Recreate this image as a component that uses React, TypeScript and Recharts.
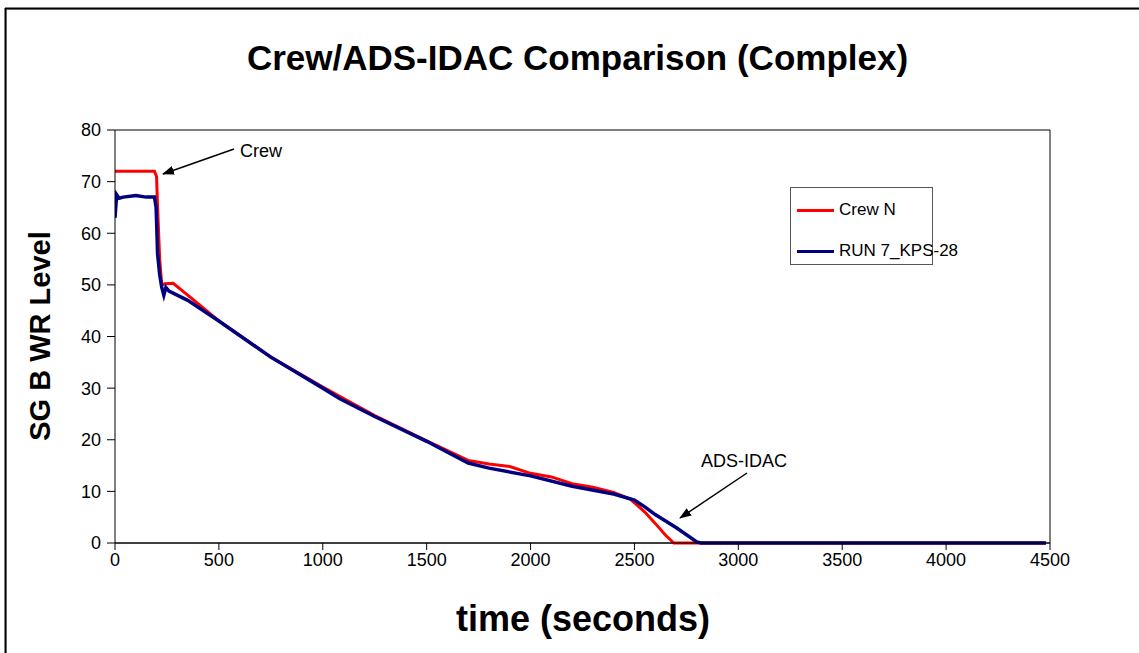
import { LineChart, Line, XAxis, YAxis, CartesianGrid } from 'recharts';

const xTicks = [0, 500, 1000, 1500, 2000, 2500, 3000, 3500, 4000, 4500];
const yTicks = [0, 10, 20, 30, 40, 50, 60, 70, 80];

const crewTime = [0, 190, 200, 205, 215, 225, 240, 280, 350, 500, 750, 1000, 1250, 1500, 1700, 1800, 1900, 2000, 2100, 2200, 2300, 2400, 2480, 2550, 2600, 2650, 2690, 2760, 4480];
const crewLevel = [72, 72, 71, 65, 55, 50, 50.2, 50.3, 48, 43, 36, 30.2, 24.7, 19.8, 16, 15.3, 14.8, 13.5, 12.8, 11.5, 10.8, 9.8, 8.5, 6, 3.8, 1.5, 0, 0, 0];

const runTime = [0, 8, 20, 40, 100, 150, 190, 198, 205, 215, 225, 235, 245, 260, 350, 500, 750, 1000, 1080, 1250, 1500, 1700, 1800, 2000, 2200, 2400, 2500, 2550, 2600, 2700, 2800, 2820, 4480];
const runLevel = [63, 67.5, 66.8, 67, 67.3, 67, 67, 65, 56, 52, 49.5, 48, 49.5, 48.8, 47, 43, 36, 30, 28, 24.5, 19.7, 15.5, 14.5, 13, 11, 9.5, 8.3, 7, 5.5, 3, 0.2, 0, 0];

const crewData = crewTime.map((t, i) => ({ t, v: crewLevel[i] }));
const runData = runTime.map((t, i) => ({ t, v: runLevel[i] }));

const legendItems = [
  { name: 'Crew N', color: '#ff0000' },
  { name: 'RUN 7_KPS-28', color: '#000080' },
];

const font = '"Liberation Sans", Arial, sans-serif';
const tickStyle = { fill: '#000', fontSize: 18, fontFamily: font };

export default function App() {
  return (
    <div style={{ position: 'relative', width: 1139, height: 653, overflow: 'hidden', background: '#fff', fontFamily: font }}>
      <style>{'html,body{margin:0;padding:0;overflow:hidden}'}</style>
      <div style={{ position: 'absolute', left: 0, width: 1155, top: 38, textAlign: 'center', fontSize: 35, fontWeight: 'bold', whiteSpace: 'nowrap' }}>
        Crew/ADS-IDAC Comparison (Complex)
      </div>
      <div style={{ position: 'absolute', left: 0, top: 0 }}>
        <LineChart width={1139} height={653} margin={{ top: 130, right: 69, left: 55, bottom: 80 }}>
          <CartesianGrid vertical={false} stroke="#000" strokeWidth={1} />
          <XAxis
            type="number"
            dataKey="t"
            domain={[0, 4500]}
            ticks={xTicks}
            allowDataOverflow
            height={30}
            stroke="#000"
            tick={tickStyle}
            tickSize={7}
            tickMargin={3}
          />
          <YAxis
            yAxisId="l"
            domain={[0, 80]}
            ticks={yTicks}
            width={60}
            stroke="#000"
            tick={tickStyle}
            tickSize={8}
            tickMargin={6}
          />
          <YAxis
            yAxisId="r"
            orientation="right"
            domain={[0, 80]}
            ticks={yTicks}
            width={20}
            stroke="#000"
            tick={false}
            tickSize={10}
          />
          <Line yAxisId="l" data={crewData} dataKey="v" name="Crew N" stroke="#ff0000" strokeWidth={3} dot={false} isAnimationActive={false} type="linear" />
          <Line yAxisId="l" data={runData} dataKey="v" name="RUN 7_KPS-28" stroke="#000080" strokeWidth={3.5} dot={false} isAnimationActive={false} type="linear" />
        </LineChart>
      </div>
      <div style={{ position: 'absolute', left: 790, top: 187, width: 141, height: 76, border: '1px solid #555', background: '#fff', fontSize: 17 }}>
        {legendItems.map((it, i) => (
          <div key={it.name} style={{ position: 'absolute', left: 6, top: 11 + i * 41, display: 'flex', alignItems: 'center', height: 22, whiteSpace: 'nowrap' }}>
            <span style={{ display: 'inline-block', width: 37, height: 3, background: it.color, marginRight: 5 }} />
            <span>{it.name}</span>
          </div>
        ))}
      </div>
      <svg width={1139} height={653} style={{ position: 'absolute', left: 0, top: 0, pointerEvents: 'none' }}>
        <defs>
          <marker id="ah" markerWidth="12" markerHeight="9" refX="11" refY="4.5" orient="auto" markerUnits="userSpaceOnUse">
            <path d="M0,0 L12,4.5 L0,9 z" fill="#000" />
          </marker>
        </defs>
        <line x1={6} y1={9} x2={1139} y2={9} stroke="#999" strokeWidth={1} />
        <line x1={6} y1={9} x2={6} y2={653} stroke="#999" strokeWidth={1} />
        <line x1={5} y1={8.5} x2={1139} y2={8.5} stroke="#000" strokeWidth={2} />
        <line x1={5.5} y1={8} x2={5.5} y2={653} stroke="#000" strokeWidth={2} />
        <line x1={234} y1={149} x2={163} y2={174} stroke="#000" strokeWidth={1.5} markerEnd="url(#ah)" />
        <text x={240} y={157} fontSize={18} fontFamily={font}>Crew</text>
        <line x1={747} y1={473} x2={680} y2={518} stroke="#000" strokeWidth={1.5} markerEnd="url(#ah)" />
        <text x={701} y={467} fontSize={18} fontFamily={font}>ADS-IDAC</text>
      </svg>
      <div style={{ position: 'absolute', left: 0, width: 1166, top: 598, textAlign: 'center', fontSize: 36, fontWeight: 'bold', whiteSpace: 'nowrap' }}>
        time (seconds)
      </div>
      <div style={{ position: 'absolute', left: 40, top: 336, transform: 'translate(-50%, -50%) rotate(-90deg)', whiteSpace: 'nowrap', fontSize: 29, fontWeight: 'bold' }}>
        SG B WR Level
      </div>
    </div>
  );
}
